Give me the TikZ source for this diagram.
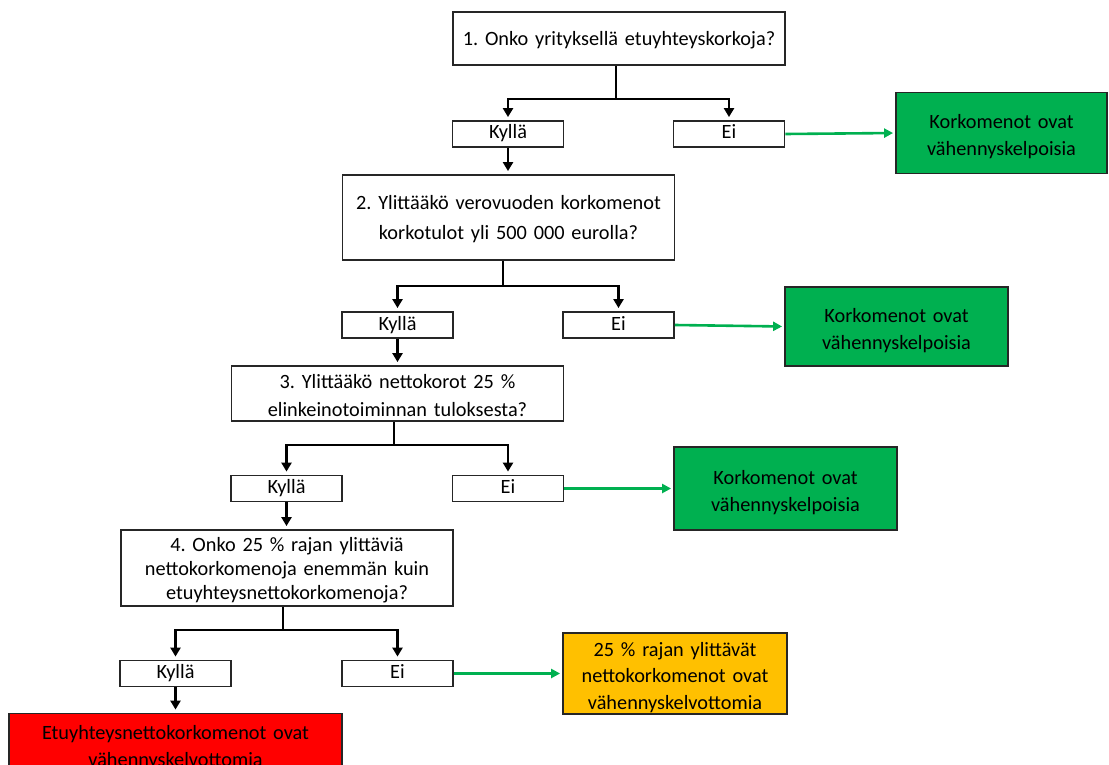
\documentclass[tikz,border=0pt]{standalone}
\usepackage{fontspec}
\setmainfont{Carlito}
\frenchspacing
\usetikzlibrary{arrows.meta}
\definecolor{okgreen}{RGB}{0,176,80}
\definecolor{warnyellow}{RGB}{255,192,0}
\definecolor{stopred}{RGB}{255,0,0}
\tikzset{
  box/.style={draw=black!85,line width=1.8pt,align=center,inner xsep=0pt,inner ysep=0pt,
    font=\fontsize{20.3}{27}\selectfont},
  lift/.style={execute at begin node={\rule{0pt}{#1}}},
  question/.style={box,text width=332pt,lift=18pt},
  answer/.style={box,text width=111pt,minimum height=26pt,
    execute at begin node={\rule[-5pt]{0pt}{20pt}}},
  result/.style={box,text width=223pt,minimum height=81pt,lift=22pt},
  link/.style={line width=2.8pt,-{Triangle[width=10pt,length=9pt]},shorten >=3pt},
  pass/.style={okgreen,line width=2.6pt,-{Triangle[width=9pt,length=9pt]},shorten >=2pt}
}
\begin{document}
\begin{tikzpicture}[x=1pt,y=-1pt]
\useasboundingbox (0,0) rectangle (1109,765);
\clip (0,0) rectangle (1109,765);
\node[question,minimum height=53pt] (q1) at (619,38.5) {1. Onko yrityksellä etuyhteyskorkoja?};
\node[answer] (k1) at (508,134) {Kyllä};
\node[answer] (e1) at (729,134) {Ei};
\node[result,fill=okgreen,text width=211pt] (g1) at (1001.5,133) {Korkomenot ovat\\vähennyskelpoisia};
\node[question,minimum height=85pt,font=\fontsize{20.3}{30}\selectfont] (q2) at (508.5,217.5) {2. Ylittääkö verovuoden korkomenot\\korkotulot yli 500 000 eurolla?};
\node[answer] (k2) at (397.5,325) {Kyllä};
\node[answer] (e2) at (618.5,325) {Ei};
\node[result,fill=okgreen,minimum height=79pt] (g2) at (896.5,326.5) {Korkomenot ovat\\vähennyskelpoisia};
\node[question,minimum height=55pt,lift=16pt,font=\fontsize{20.3}{28}\selectfont] (q3) at (397.5,393.5) {3. Ylittääkö nettokorot 25 \%\\elinkeinotoiminnan tuloksesta?};
\node[answer] (k3) at (286.5,488.5) {Kyllä};
\node[answer] (e3) at (508,488.5) {Ei};
\node[result,fill=okgreen,minimum height=83pt,lift=20pt] (g3) at (785.5,488.5) {Korkomenot ovat\\vähennyskelpoisia};
\node[question,minimum height=76pt,font=\fontsize{20.3}{24}\selectfont] (q4) at (287,568) {4. Onko 25 \% rajan ylittäviä\\nettokorkomenoja enemmän kuin\\etuyhteysnettokorkomenoja?};
\node[answer] (k4) at (175.5,673.5) {Kyllä};
\node[answer] (e4) at (397.5,673.5) {Ei};
\node[result,fill=warnyellow,text width=224pt,lift=16pt,font=\fontsize{20.3}{26.5}\selectfont] (y4) at (675,673.5) {25 \% rajan ylittävät\\nettokorkomenot ovat\\vähennyskelvottomia};
\node[result,fill=stopred,text width=333pt,minimum height=60pt,lift=14pt] (r4) at (175.5,743.5) {Etuyhteysnettokorkomenot ovat\\vähennyskelvottomia};
\coordinate (b1) at (616,99);
\coordinate (b2) at (503,286);
\coordinate (b3) at (394,445);
\coordinate (b4) at (283,630);
\draw[link] (q1.south -| b1) -- (b1) -| (k1.north);
\draw[link] (b1) -| (e1.north);
\draw[link] (k1.south) -- (q2.north -| k1);
\draw[pass] (e1.east) -- (g1.west);
\draw[link] (q2.south -| b2) -- (b2) -| (k2.north);
\draw[link] (b2) -| (e2.north);
\draw[link] (k2.south) -- (q3.north -| k2);
\draw[pass] (e2.east) -- (g2.west);
\draw[link] (q3.south -| b3) -- (b3) -| (k3.north);
\draw[link] (b3) -| (e3.north);
\draw[link] (k3.south) -- (q4.north -| k3);
\draw[pass] (e3.east) -- (g3.west);
\draw[link] (q4.south -| b4) -- (b4) -| (k4.north);
\draw[link] (b4) -| (e4.north);
\draw[link] (k4.south) -- (r4.north -| k4);
\draw[pass] (e4.east) -- (y4.west);
\end{tikzpicture}
\end{document}
